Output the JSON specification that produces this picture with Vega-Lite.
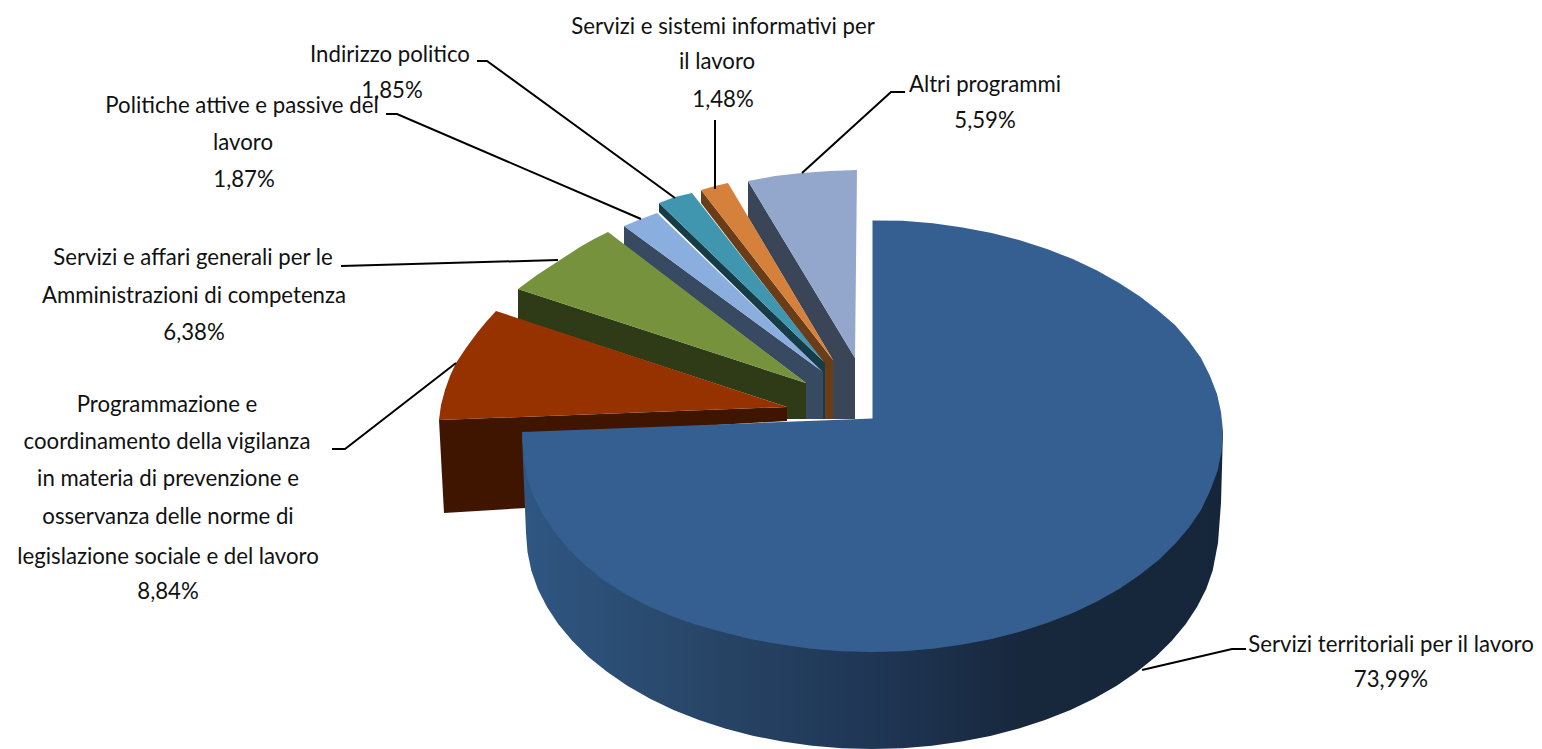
{"$schema":"https://vega.github.io/schema/vega-lite/v6.json","width":1542,"height":749,"padding":0,"autosize":{"type":"fit","contains":"padding"},"background":"white","view":{"stroke":null},
"datasets":{
"outlines":[
{"shape":"Altri wall","n":1,"x":748,"y":181},{"shape":"Altri wall","n":2,"x":855,"y":358},{"shape":"Altri wall","n":3,"x":855,"y":419},{"shape":"Altri wall","n":4,"x":833,"y":419},{"shape":"Altri wall","n":5,"x":833,"y":360},{"shape":"Altri wall","n":6,"x":748,"y":217},
{"shape":"Altri","n":1,"x":748,"y":181},{"shape":"Altri","n":2,"x":775,"y":176},{"shape":"Altri","n":3,"x":802,"y":173},{"shape":"Altri","n":4,"x":830,"y":171},{"shape":"Altri","n":5,"x":857,"y":170},{"shape":"Altri","n":6,"x":855,"y":358},
{"shape":"Orange wall","n":1,"x":701,"y":190},{"shape":"Orange wall","n":2,"x":833,"y":360},{"shape":"Orange wall","n":3,"x":833,"y":419},{"shape":"Orange wall","n":4,"x":824,"y":419},{"shape":"Orange wall","n":5,"x":824,"y":363},{"shape":"Orange wall","n":6,"x":701,"y":203},
{"shape":"Orange","n":1,"x":701,"y":190},{"shape":"Orange","n":2,"x":715,"y":186},{"shape":"Orange","n":3,"x":728,"y":183},{"shape":"Orange","n":4,"x":833,"y":360},
{"shape":"Teal wall","n":1,"x":659,"y":203},{"shape":"Teal wall","n":2,"x":825,"y":363},{"shape":"Teal wall","n":3,"x":825,"y":419},{"shape":"Teal wall","n":4,"x":823,"y":419},{"shape":"Teal wall","n":5,"x":823,"y":373},{"shape":"Teal wall","n":6,"x":659,"y":212},
{"shape":"Teal","n":1,"x":659,"y":203},{"shape":"Teal","n":2,"x":675,"y":197},{"shape":"Teal","n":3,"x":692,"y":193},{"shape":"Teal","n":4,"x":824,"y":362},
{"shape":"Azzurro wall","n":1,"x":624,"y":226},{"shape":"Azzurro wall","n":2,"x":823,"y":372},{"shape":"Azzurro wall","n":3,"x":823,"y":419},{"shape":"Azzurro wall","n":4,"x":806,"y":419},{"shape":"Azzurro wall","n":5,"x":806,"y":383},{"shape":"Azzurro wall","n":6,"x":624,"y":245},
{"shape":"Azzurro","n":1,"x":624,"y":226},{"shape":"Azzurro","n":2,"x":641,"y":219},{"shape":"Azzurro","n":3,"x":657,"y":213},{"shape":"Azzurro","n":4,"x":823,"y":372},
{"shape":"Verde wall","n":1,"x":518,"y":289},{"shape":"Verde wall","n":2,"x":806,"y":383},{"shape":"Verde wall","n":3,"x":806,"y":419},{"shape":"Verde wall","n":4,"x":787,"y":419},{"shape":"Verde wall","n":5,"x":787,"y":407},{"shape":"Verde wall","n":6,"x":518,"y":319},
{"shape":"Verde","n":1,"x":608,"y":232},{"shape":"Verde","n":2,"x":594,"y":239},{"shape":"Verde","n":3,"x":580,"y":247},{"shape":"Verde","n":4,"x":560,"y":260},{"shape":"Verde","n":5,"x":537,"y":275},{"shape":"Verde","n":6,"x":518,"y":289},{"shape":"Verde","n":7,"x":806,"y":383},
{"shape":"Rosso wall","n":1,"x":439,"y":420},{"shape":"Rosso wall","n":2,"x":787,"y":407},{"shape":"Rosso wall","n":3,"x":787,"y":421},{"shape":"Rosso wall","n":4,"x":526,"y":436},{"shape":"Rosso wall","n":5,"x":526,"y":508},{"shape":"Rosso wall","n":6,"x":444,"y":513},
{"shape":"Rosso","n":1,"x":496,"y":311},{"shape":"Rosso","n":2,"x":486,"y":322},{"shape":"Rosso","n":3,"x":477,"y":333},{"shape":"Rosso","n":4,"x":466,"y":348},{"shape":"Rosso","n":5,"x":456,"y":363},{"shape":"Rosso","n":6,"x":450,"y":376},{"shape":"Rosso","n":7,"x":445,"y":390},{"shape":"Rosso","n":8,"x":441,"y":405},{"shape":"Rosso","n":9,"x":439,"y":420},{"shape":"Rosso","n":10,"x":787,"y":407}
],
"wall":[
{"n":1,"x":1223,"y":431},{"n":2,"x":1221,"y":503},{"n":3,"x":1218,"y":543},{"n":4,"x":1212.7,"y":570.5},{"n":5,"x":1206.2,"y":588.9},{"n":6,"x":1197,"y":606.9},{"n":7,"x":1185.6,"y":624.3},{"n":8,"x":1171.6,"y":641},{"n":9,"x":1155.4,"y":656.9},{"n":10,"x":1137,"y":671.8},{"n":11,"x":1116.7,"y":685.7},{"n":12,"x":1094.4,"y":698.5},{"n":13,"x":1070.5,"y":710},{"n":14,"x":1045,"y":720},{"n":15,"x":1018.2,"y":728.8},{"n":16,"x":990.3,"y":736},{"n":17,"x":961.6,"y":741.6},{"n":18,"x":932,"y":745.7},{"n":19,"x":902.2,"y":748.2},{"n":20,"x":872,"y":749},{"n":21,"x":841.8,"y":748.2},{"n":22,"x":812,"y":745.7},{"n":23,"x":782.4,"y":741.6},{"n":24,"x":753.7,"y":736},{"n":25,"x":725.8,"y":728.8},{"n":26,"x":699,"y":720},{"n":27,"x":673.5,"y":710},{"n":28,"x":649.6,"y":698.5},{"n":29,"x":627.3,"y":685.7},{"n":30,"x":607,"y":671.8},{"n":31,"x":588.6,"y":656.9},{"n":32,"x":572.4,"y":641},{"n":33,"x":558.4,"y":624.3},{"n":34,"x":547,"y":606.9},{"n":35,"x":537.8,"y":588.9},{"n":36,"x":531.3,"y":570.5},{"n":37,"x":527.5,"y":552},{"n":38,"x":526,"y":533},{"n":39,"x":522,"y":436}
],
"top":[
{"n":0,"x":872.5,"y":418.5},{"n":1,"x":872.5,"y":220.5},{"n":2,"x":902.5,"y":220.8},{"n":3,"x":932.8,"y":223.3},{"n":4,"x":962.6,"y":227.4},{"n":5,"x":991.7,"y":233},{"n":6,"x":1019.9,"y":240.2},{"n":7,"x":1047,"y":249},{"n":8,"x":1072.8,"y":259.1},{"n":9,"x":1097,"y":270.5},{"n":10,"x":1119.5,"y":283.3},{"n":11,"x":1140,"y":296.5},{"n":12,"x":1158.7,"y":311},{"n":13,"x":1175,"y":325},{"n":14,"x":1189.2,"y":341.5},{"n":15,"x":1201,"y":358},{"n":16,"x":1210,"y":376},{"n":17,"x":1217,"y":394},{"n":18,"x":1221,"y":412},{"n":19,"x":1223,"y":431},{"n":20,"x":1221.5,"y":452},{"n":21,"x":1217.5,"y":471},{"n":22,"x":1210,"y":491},{"n":23,"x":1201,"y":509.9},{"n":24,"x":1189.2,"y":527.3},{"n":25,"x":1175,"y":544},{"n":26,"x":1158.7,"y":559.9},{"n":27,"x":1140,"y":574.8},{"n":28,"x":1119.5,"y":588.7},{"n":29,"x":1097,"y":601.5},{"n":30,"x":1072.8,"y":613},{"n":31,"x":1047,"y":623},{"n":32,"x":1019.9,"y":631.8},{"n":33,"x":991.7,"y":639},{"n":34,"x":962.6,"y":644.6},{"n":35,"x":932.8,"y":648.7},{"n":36,"x":902.5,"y":651.2},{"n":37,"x":872,"y":652},{"n":38,"x":841.5,"y":651.2},{"n":39,"x":811.2,"y":648.7},{"n":40,"x":781.4,"y":644.6},{"n":41,"x":752.3,"y":639.5},{"n":42,"x":724.1,"y":632.5},{"n":43,"x":697,"y":625},{"n":44,"x":671.2,"y":616},{"n":45,"x":647,"y":605.5},{"n":46,"x":624.5,"y":593.5},{"n":47,"x":604,"y":580.5},{"n":48,"x":585.3,"y":565.5},{"n":49,"x":569,"y":549.5},{"n":50,"x":555,"y":532.5},{"n":51,"x":543,"y":515},{"n":52,"x":534,"y":497},{"n":53,"x":527.3,"y":478},{"n":54,"x":523.5,"y":455},{"n":55,"x":522,"y":432}
],
"leaders":[
{"id":"a","n":1,"x":477,"y":61},{"id":"a","n":2,"x":487,"y":61},{"id":"a","n":3,"x":675,"y":198},
{"id":"b","n":1,"x":386,"y":114},{"id":"b","n":2,"x":397,"y":114},{"id":"b","n":3,"x":641,"y":219},
{"id":"c","n":1,"x":341,"y":266},{"id":"c","n":2,"x":558,"y":260},
{"id":"d","n":1,"x":332,"y":449},{"id":"d","n":2,"x":345,"y":449},{"id":"d","n":3,"x":456,"y":363},
{"id":"e","n":1,"x":715,"y":120},{"id":"e","n":2,"x":715,"y":189},
{"id":"f","n":1,"x":905,"y":92},{"id":"f","n":2,"x":891,"y":92},{"id":"f","n":3,"x":802,"y":173},
{"id":"g","n":1,"x":1142,"y":670},{"id":"g","n":2,"x":1232,"y":649},{"id":"g","n":3,"x":1246,"y":649}
],
"labels":[
{"t":"Indirizzo politico","x":390,"y":55},{"t":"1,85%","x":392,"y":91},
{"t":"Politiche attive e passive del","x":242,"y":106},{"t":"lavoro","x":243,"y":143},{"t":"1,87%","x":244,"y":180},
{"t":"Servizi e affari generali per le","x":193,"y":258},{"t":"Amministrazioni di competenza","x":194,"y":296},{"t":"6,38%","x":194,"y":333},
{"t":"Programmazione e","x":167,"y":405},{"t":"coordinamento della vigilanza","x":167,"y":442},{"t":"in materia di prevenzione e","x":168,"y":479},{"t":"osservanza delle norme di","x":168,"y":517},{"t":"legislazione sociale e del lavoro","x":168,"y":557},{"t":"8,84%","x":168,"y":592},
{"t":"Servizi e sistemi informativi per","x":723,"y":27},{"t":"il lavoro","x":717,"y":62},{"t":"1,48%","x":723,"y":100},
{"t":"Altri programmi","x":985,"y":85},{"t":"5,59%","x":985,"y":121},
{"t":"Servizi territoriali per il lavoro","x":1391,"y":645},{"t":"73,99%","x":1391,"y":680}
]},
"encoding":{
"x":{"field":"x","type":"quantitative","scale":{"domain":[0,1542]},"axis":null},
"y":{"field":"y","type":"quantitative","scale":{"domain":[749,0]},"axis":null}},
"layer":[
{"data":{"name":"outlines"},"mark":{"type":"line","filled":true,"strokeWidth":0},
 "encoding":{"order":{"field":"n"},"color":{"field":"shape","type":"nominal","legend":null,"sort":null,
 "scale":{"domain":["Altri wall","Altri","Orange wall","Orange","Teal wall","Teal","Azzurro wall","Azzurro","Verde wall","Verde","Rosso wall","Rosso"],"range":["#3A4558","#93A6CC","#6A3C18","#D6813B","#173C48","#3F96AE","#384A62","#8AAEDE","#2F3A17","#76923C","#3F1500","#963200"]}}}},
{"data":{"name":"wall"},"mark":{"type":"line","filled":true,"strokeWidth":0,"color":{"gradient":"linear","x1":0,"y1":0,"x2":1,"y2":0,"stops":[{"offset":0,"color":"#2F5783"},{"offset":0.25,"color":"#284668"},{"offset":0.5,"color":"#1F3655"},{"offset":0.72,"color":"#17273C"},{"offset":1,"color":"#16263A"}]}},
 "encoding":{"order":{"field":"n"}}},
{"data":{"name":"top"},"mark":{"type":"line","filled":true,"strokeWidth":0,"color":"#365F91"},"encoding":{"order":{"field":"n"}}},
{"data":{"name":"leaders"},"mark":{"type":"line","color":"black","strokeWidth":2},"encoding":{"detail":{"field":"id"},"order":{"field":"n"}}},
{"data":{"name":"labels"},"mark":{"type":"text","font":"Lato","fontSize":22.2,"color":"#111111","align":"center","baseline":"middle"},"encoding":{"text":{"field":"t"}}}
]}
